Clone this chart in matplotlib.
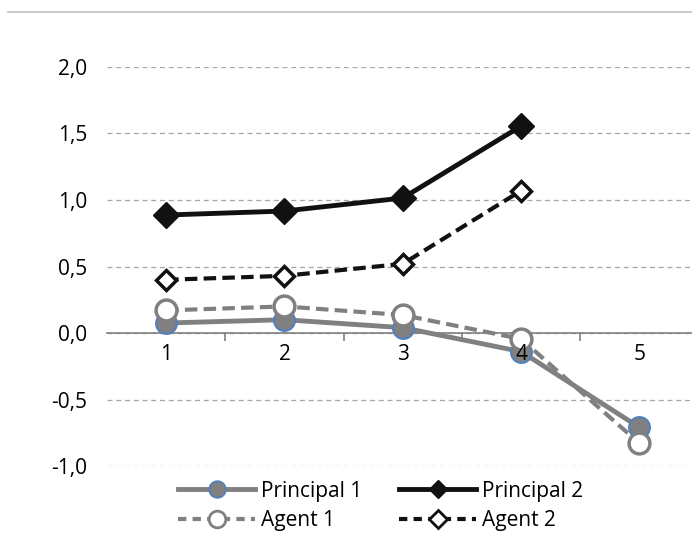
import matplotlib
matplotlib.use('Agg')
import matplotlib.pyplot as plt
from matplotlib.lines import Line2D

# valeurs
periods = [1, 2, 3, 4, 5]
principal1 = [0.075, 0.10, 0.04, -0.14, -0.71]
agent1 = [0.17, 0.20, 0.135, -0.045, -0.83]
principal2 = [0.887, 0.917, 1.015, 1.556]
agent2 = [0.40, 0.43, 0.52, 1.07]
yticks = [-1.0, -0.5, 0.0, 0.5, 1.0, 1.5, 2.0]
ytick_labels = ['-1,0', '-0,5', '0,0', '0,5', '1,0', '1,5', '2,0']

plt.rcParams['font.family'] = ['Open Sans', 'DejaVu Sans']

fig = plt.figure(figsize=(6.92, 5.33), dpi=100)
ax = fig.add_axes([0.1546, 0.1257, 0.855, 0.7486])

gray = '#808080'
blue = '#4f81bd'

ax.plot(periods, principal1, '-', color=gray, lw=3.5, marker='o', ms=15,
        mfc=gray, mec=blue, mew=1.5, zorder=3)
ax.plot(periods, agent1, '--', color=gray, lw=3, marker='o', ms=15,
        mfc='white', mec=gray, mew=2.5, dashes=(3, 1.5), zorder=4)
ax.plot(periods[:4], principal2, '-', color='#111111', lw=3.5, marker='D', ms=13,
        mfc='#111111', mec='#111111', zorder=3)
ax.plot(periods[:4], agent2, '--', color='#111111', lw=3, marker='D', ms=10,
        mfc='white', mec='#111111', mew=2.5, dashes=(3, 1.5), zorder=4)

ax.set_xlim(0.5, 5.5)
ax.set_ylim(-1.0, 2.0)
ax.set_yticks(yticks)
ax.set_yticklabels(ytick_labels, fontsize=15)
ax.yaxis.grid(True, linestyle=(0, (4, 3)), color='#a6a6a6', lw=0.9)
ax.set_axisbelow(True)

for s in ['top', 'right', 'left']:
    ax.spines[s].set_visible(False)
ax.spines['bottom'].set_position(('data', 0))
ax.spines['bottom'].set_color(gray)
ax.spines['bottom'].set_linewidth(1.2)

ax.set_xticks(periods)
ax.set_xticklabels([str(p) for p in periods], fontsize=15)
ax.set_xticks([1.5, 2.5, 3.5, 4.5, 5.5], minor=True)
ax.tick_params(axis='x', which='major', length=0, pad=8)
ax.tick_params(axis='x', which='minor', length=6, color=gray, width=1.2)
ax.tick_params(axis='y', length=0, pad=14)
ax.xaxis.set_zorder(5)

handles = [
    Line2D([], [], color=gray, lw=3.5, marker='o', ms=12, mfc=gray, mec=blue, mew=1.2),
    Line2D([], [], color=gray, lw=3, ls='--', dashes=(2, 1.5), marker='o', ms=12,
           mfc='white', mec=gray, mew=2),
    Line2D([], [], color='#111111', lw=3.5, marker='D', ms=9, mfc='#111111', mec='#111111'),
    Line2D([], [], color='#111111', lw=3, ls='--', dashes=(2, 1.5), marker='D', ms=9,
           mfc='white', mec='#111111', mew=2),
]
labels = ['Principal 1', 'Agent 1', 'Principal 2', 'Agent 2']
fig.legend(handles, labels, loc='upper center', bbox_to_anchor=(0.55, 0.118),
           ncol=2, frameon=False, fontsize=15, handlelength=3.7,
           handletextpad=0.25, columnspacing=1.8, labelspacing=0.4,
           borderpad=0)

# ligne grise en haut
fig.add_artist(Line2D([0.012, 1.0], [0.978, 0.978], color='#c0c0c0', lw=1.2))

fig.savefig('out.png', dpi=100)
